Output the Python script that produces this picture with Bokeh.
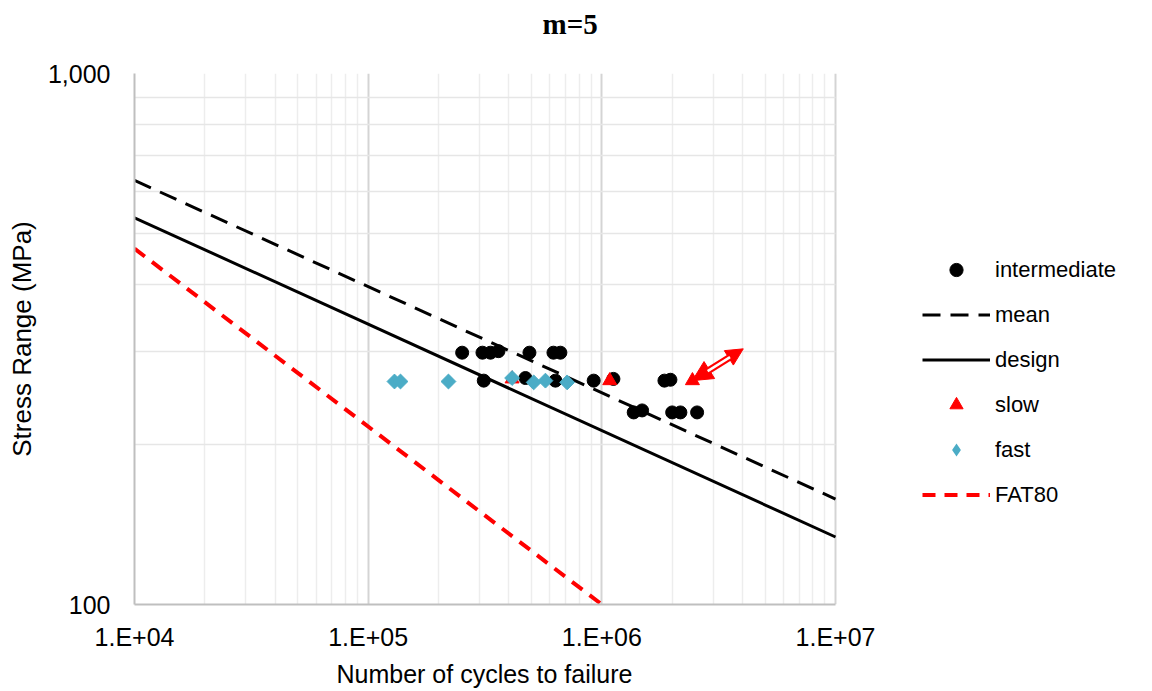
import numpy as np
from bokeh.plotting import figure
from bokeh.models import FixedTicker, Legend, LegendItem, Title, Arrow, NormalHead, NumeralTickFormatter
from bokeh.embed import file_html
from bokeh.resources import INLINE

# ---------------- data ----------------
title_text = "m=5"
x_label = "Number of cycles to failure"
y_label = "Stress Range (MPa)"

inter_N = [252500, 308400, 333800, 361100, 490000, 620800, 664700,
           312400, 471000, 633000, 923000, 1121000, 1853000, 1966000,
           1369000, 1487000, 2000000, 2169000, 2557000]
inter_S = [298, 298, 298, 300, 298, 298, 298,
           264, 267, 264, 264, 266, 264, 265,
           230, 232, 230, 230, 230]

slow_N = [413000, 1081000, 2442000]
slow_S = [266, 264, 264]

fast_N = [129600, 137500, 220600, 413000, 511000, 573700, 710500]
fast_S = [263, 263, 263, 267, 262, 264, 262]

mean_N = [1e4, 1e7]
mean_S = [629, 158]
design_N = [1e4, 1e7]
design_S = [535, 134]
fat80_N = [1e4, 1e6]
fat80_S = [468, 100]

arrow_N = [2.44e6, 4.03e6]
arrow_S = [264, 303]

x_ticks = [10000, 100000, 1000000, 10000000]
x_tick_labels = ["1.E+04", "1.E+05", "1.E+06", "1.E+07"]
y_ticks = [100, 1000]

# ---------------- layout geometry ----------------
W, H = 1152, 691
left, right_border, top, bottom = 134, 10, 73, 87
plot_right = 835                      # where 1e7 sits; the frame continues for the legend
decade_px = (plot_right - left) / 3.0
x_end = 10 ** (7 + (W - right_border - plot_right) / decade_px)

# ---------------- figure ----------------
p = figure(width=W, height=H, x_axis_type="log", y_axis_type="log",
           x_range=(1e4, x_end), y_range=(100, 1000),
           output_backend="svg", toolbar_location=None,
           min_border_left=left, min_border_right=right_border,
           min_border_top=top, min_border_bottom=bottom)
p.background_fill_color = "white"
p.border_fill_color = "white"
p.outline_line_color = None

x_minor = [m * d for d in x_ticks[:-1] for m in range(2, 10)]
y_minor = [m * 100 for m in range(2, 10)]
xt = FixedTicker(ticks=x_ticks, minor_ticks=x_minor)
yt = FixedTicker(ticks=y_ticks, minor_ticks=y_minor)
p.xaxis.ticker = xt
p.yaxis.ticker = yt
p.xgrid.ticker = xt
p.ygrid.ticker = yt
p.xaxis.bounds = (1e4, 1e7)
p.ygrid.cross_bounds = (1e4, 1e7)
p.xaxis.major_label_overrides = {v: s for v, s in zip(x_ticks, x_tick_labels)}
p.yaxis.formatter = NumeralTickFormatter(format="0,0")

p.xgrid.grid_line_color = "#d4d4d4"
p.xgrid.grid_line_width = 2
p.xgrid.minor_grid_line_color = "#ededed"
p.xgrid.minor_grid_line_width = 1.5
p.ygrid.grid_line_color = "#d9d9d9"
p.ygrid.grid_line_width = 1.5
p.ygrid.minor_grid_line_color = "#e6e6e6"
p.ygrid.minor_grid_line_width = 1.5

for ax in (p.xaxis, p.yaxis):
    ax.axis_line_color = "#bfbfbf"
    ax.axis_line_width = 2
    ax.major_tick_line_color = None
    ax.minor_tick_line_color = None
    ax.major_tick_out = 0
    ax.minor_tick_out = 0
    ax.major_label_text_font = "Liberation Sans"
    ax.major_label_text_font_size = "25px"
    ax.major_label_text_color = "black"
    ax.axis_label_text_font = "Liberation Sans"
    ax.axis_label_text_font_size = "26px"
    ax.axis_label_text_font_style = "normal"
    ax.axis_label_text_color = "black"

p.yaxis.axis_label = y_label
p.xaxis.major_label_standoff = 18
p.yaxis.major_label_standoff = 24
p.yaxis.axis_label_standoff = 8

# x-axis title centred under the 1e4..1e7 span (the frame continues under the legend)
p.add_layout(Title(text=x_label, align="left", offset=202, standoff=8,
                   text_font="Liberation Sans", text_font_size="25px",
                   text_font_style="normal", text_color="black"), "below")

# spacer title (closest to the frame), then the real title above it
p.add_layout(Title(text=" ", text_font_size="16px", standoff=14), "above")
p.add_layout(Title(text=title_text, align="left", offset=408, standoff=2,
                   text_font="Liberation Serif", text_font_size="29px",
                   text_font_style="bold", text_color="black"), "above")

# ---------------- glyphs ----------------
r_inter = p.scatter(inter_N, inter_S, marker="circle", size=13,
                    fill_color="black", line_color="black")
r_mean = p.line(mean_N, mean_S, line_color="black", line_width=3, line_dash="18 10")
r_design = p.line(design_N, design_S, line_color="black", line_width=3)
r_slow = p.scatter(slow_N, slow_S, marker="triangle", size=14,
                   fill_color="#ff0000", line_color="#ff0000")
r_fast = p.scatter(fast_N, fast_S, marker="square", angle=np.pi / 4, size=10.5,
                   fill_color="#4bacc6", line_color="#4bacc6")
# legend key for the diamond (the legend ignores marker angle): zero-size markers
r_fast_key = p.scatter(fast_N, fast_S, marker="diamond", size=0,
                       fill_color="#4bacc6", line_color=None)
r_fat = p.line(fat80_N, fat80_S, line_color="#ff0000", line_width=4, line_dash="13 9")

# double-headed hollow arrow
p.add_layout(Arrow(start=NormalHead(size=20, fill_color="#ff0000", line_color="#ff0000"),
                   end=NormalHead(size=17, fill_color="#ff0000", line_color="#ff0000"),
                   x_start=arrow_N[0], y_start=arrow_S[0],
                   x_end=arrow_N[1], y_end=arrow_S[1],
                   line_color="#ff0000", line_width=7))
lx = np.log10(arrow_N)
ly = np.log10(arrow_S)
t0, t1 = 0.3, 0.74
p.segment(x0=[10 ** (lx[0] + t0 * (lx[1] - lx[0]))], y0=[10 ** (ly[0] + t0 * (ly[1] - ly[0]))],
          x1=[10 ** (lx[0] + t1 * (lx[1] - lx[0]))], y1=[10 ** (ly[0] + t1 * (ly[1] - ly[0]))],
          line_color="white", line_width=2.5, level="overlay")

# ---------------- legend ----------------
legend = Legend(items=[
    LegendItem(label="intermediate", renderers=[r_inter]),
    LegendItem(label="mean", renderers=[r_mean]),
    LegendItem(label="design", renderers=[r_design]),
    LegendItem(label="slow", renderers=[r_slow]),
    LegendItem(label="fast", renderers=[r_fast_key]),
    LegendItem(label="FAT80", renderers=[r_fat]),
], location=(788, 93))
legend.glyph_width = 68
legend.glyph_height = 33
legend.label_height = 22
legend.spacing = 12
legend.padding = 0
legend.margin = 0
legend.label_standoff = 5
legend.border_line_color = None
legend.background_fill_alpha = 0
legend.label_text_font = "Liberation Sans"
legend.label_text_font_size = "22px"
legend.label_text_color = "black"
p.add_layout(legend)

open("out.html", "w").write(file_html(p, INLINE))
